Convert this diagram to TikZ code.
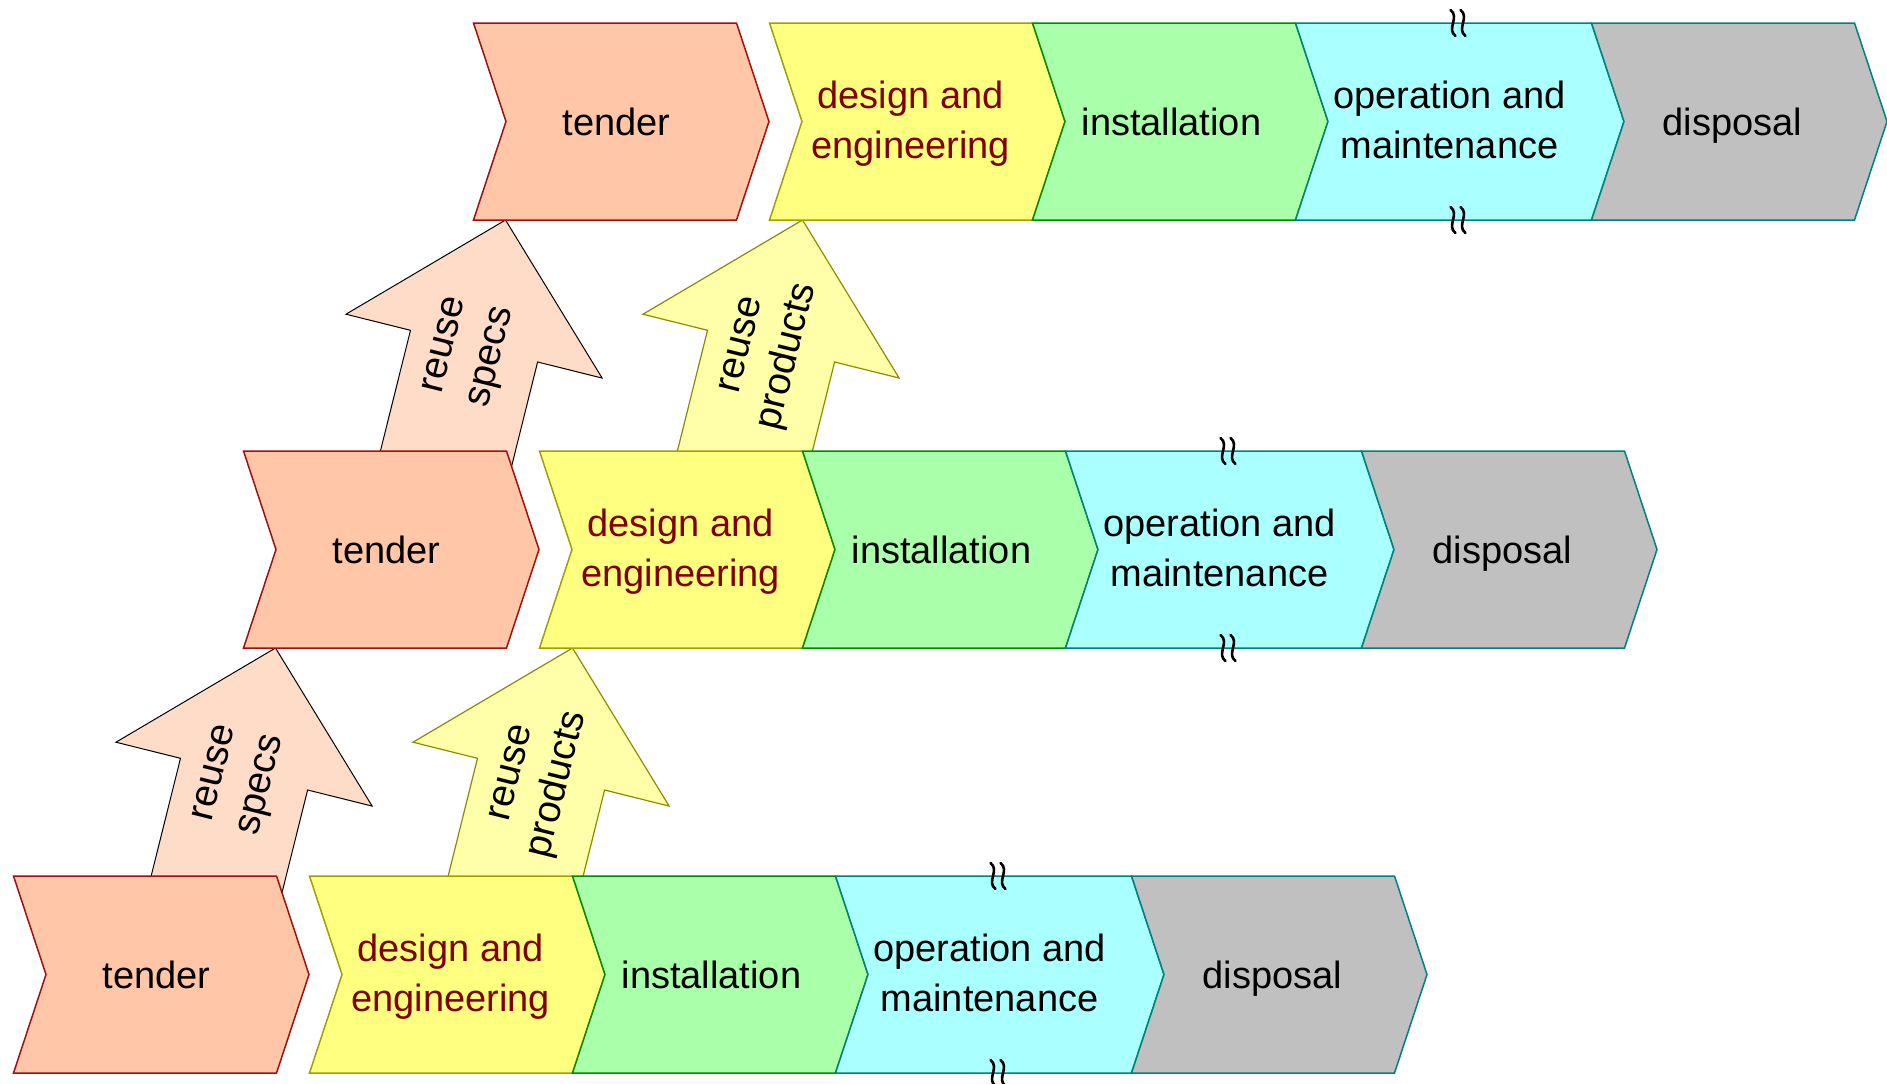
\documentclass[tikz,border=0pt]{standalone}
\usepackage{fontspec}
\setmainfont{Liberation Sans}
\definecolor{tenderfill}{HTML}{FFC6A8}
\definecolor{tenderline}{HTML}{A01010}
\definecolor{designfill}{HTML}{FFFF80}
\definecolor{designline}{HTML}{A0A000}
\definecolor{designtext}{HTML}{800000}
\definecolor{instfill}{HTML}{AAFFAA}
\definecolor{instline}{HTML}{008C00}
\definecolor{opfill}{HTML}{AAFFFF}
\definecolor{opline}{HTML}{008080}
\definecolor{dispfill}{HTML}{C0C0C0}
\definecolor{displine}{HTML}{008080}
\definecolor{specsfill}{HTML}{FFDCC8}
\definecolor{prodfill}{HTML}{FFFFAA}
\definecolor{prodline}{HTML}{8C8C00}
\newcommand\chevpath[4]{%
  \draw[#4] (#1,#2) -- ++(#3,0) -- ++(32.5,98.5) -- ++(-32.5,98.5) -- ++(-#3,0) -- ++(32.5,-98.5) -- cycle;}
\newcommand\reusearrow[4]{%
  \begin{scope}[shift={(#2)}, rotate=-14]
    \draw[#3] (0,0) coordinate (#1-tip) -- (132,130) -- (65.5,130) -- (65.5,300) -- (-65.5,300) -- (-65.5,130) -- (-132,130) -- cycle;
    \node[arrlbl] (#1-l1) at (-20,136) {reuse};
    \node[arrlbl] (#1-l2) at (28,136) {#4};
  \end{scope}}
\newcommand\squigmark[2]{%
  \begin{scope}[shift={(#1,#2)}]
    \draw[squig] (-7.5,-13) .. controls (2,-6) and (-12,6) .. (-2.5,13);
    \draw[squig] (2.5,-13) .. controls (12,-6) and (-2,6) .. (7.5,13);
  \end{scope}}
\begin{document}
\begin{tikzpicture}[x=1pt,y=-1pt,
  chev/.style={line width=1.5pt, line join=miter},
  tenderchev/.style={chev, fill=tenderfill, draw=tenderline},
  designchev/.style={chev, fill=designfill, draw=designline},
  instchev/.style={chev, fill=instfill, draw=instline},
  opchev/.style={chev, fill=opfill, draw=opline},
  dispchev/.style={chev, fill=dispfill, draw=displine},
  specsarrow/.style={fill=specsfill, draw=black, line width=1pt, line join=miter},
  prodarrow/.style={fill=prodfill, draw=prodline, line width=1.2pt, line join=miter},
  lbl/.style={font=\fontsize{38}{38}\selectfont, anchor=base, inner sep=0pt},
  arrlbl/.style={font=\fontsize{39}{39}\selectfont, anchor=base, inner sep=0pt, rotate=76},
  squig/.style={line width=2.6pt, line cap=round}
]
\useasboundingbox (0,0) rectangle (1887,1084);
% reuse arrows (behind the chevrons)
\reusearrow{bm-specs}{275.5,648}{specsarrow}{specs}
\reusearrow{bm-prod}{572.5,648}{prodarrow}{products}
\reusearrow{mt-specs}{505.5,220}{specsarrow}{specs}
\reusearrow{mt-prod}{802.5,220}{prodarrow}{products}
% rows of chevrons
\foreach \r/\L/\T in {b/13.5/876, m/243.5/451, t/473.5/23} {
  \chevpath{\L}{\T}{263}{tenderchev}
  \node[lbl] (\r-tender) at (\L+143,\T+112) {tender};
  \chevpath{\L+296}{\T}{263}{designchev}
  \node[lbl, text=designtext] (\r-design1) at (\L+437,\T+85) {design and};
  \node[lbl, text=designtext] (\r-design2) at (\L+437,\T+135) {engineering};
  \chevpath{\L+559}{\T}{263}{instchev}
  \node[lbl] (\r-inst) at (\L+698,\T+112) {installation};
  \chevpath{\L+822}{\T}{296}{opchev}
  \node[lbl] (\r-op1) at (\L+976,\T+85) {operation and};
  \node[lbl] (\r-op2) at (\L+976,\T+135) {maintenance};
  \chevpath{\L+1118}{\T}{263}{dispchev}
  \node[lbl] (\r-disp) at (\L+1259,\T+112) {disposal};
  \squigmark{\L+984.5}{\T}
  \squigmark{\L+984.5}{\T+197}
}
\end{tikzpicture}
\end{document}
